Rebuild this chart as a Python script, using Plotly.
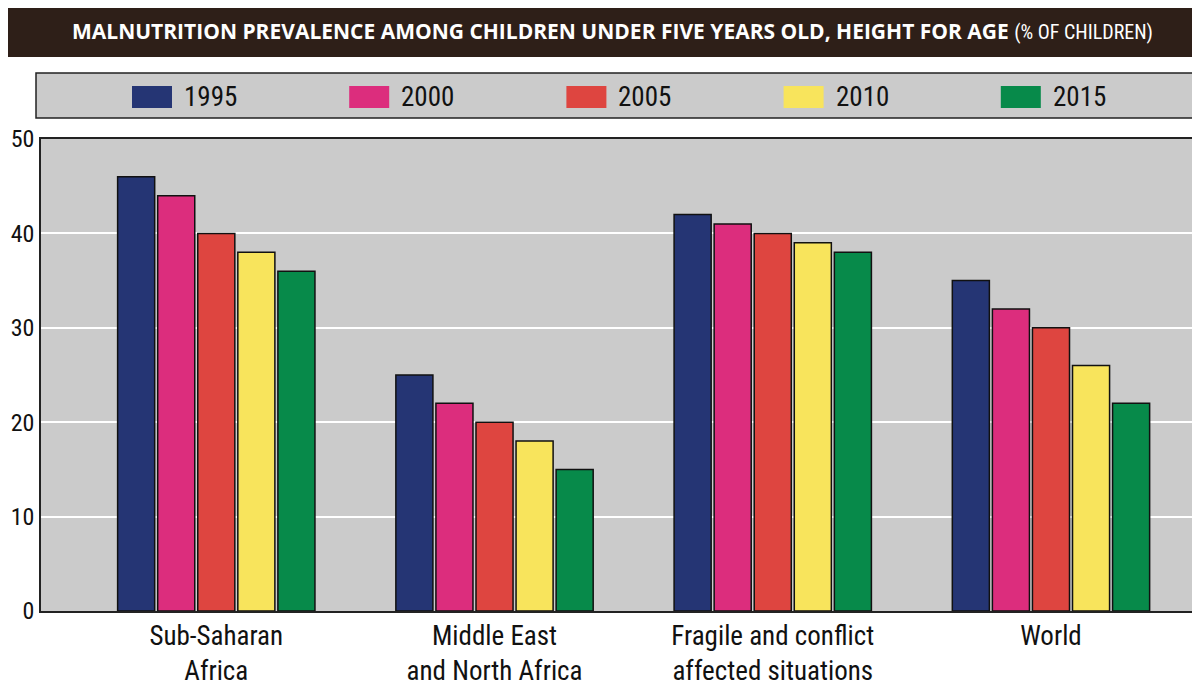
import plotly.graph_objects as go

regions = ["Sub-Saharan<br>Africa", "Middle East<br>and North Africa",
           "Fragile and conflict<br>affected situations", "World"]
years = ["1995", "2000", "2005", "2010", "2015"]
v1995 = [46, 25, 42, 35]
v2000 = [44, 22, 41, 32]
v2005 = [40, 20, 40, 30]
v2010 = [38, 18, 39, 26]
v2015 = [36, 15, 38, 22]
colors = ["#253574", "#DC2D7D", "#DE4540", "#F8E45C", "#078A4A"]

series = [v1995, v2000, v2005, v2010, v2015]
FONT = "Roboto Condensed, DejaVu Sans Condensed, sans-serif"
TITLE_FONT = "Open Sans, Roboto, sans-serif"

# page body has an 8px margin, so lay out in reference pixels minus 8
OFF = 8
W, H = 1200 - OFF, 690 - OFF
L, R, T, B = 41 - OFF, 1, 139 - OFF, 79
pw, ph = W - L - R, H - T - B


def px_x(x):
    return (x - OFF - L) / pw


def px_y(y):
    return (H - B - (y - OFF)) / ph


fig = go.Figure()
xs = list(range(len(regions)))
for name, vals, col in zip(years, series, colors):
    fig.add_trace(go.Bar(x=xs, y=vals, name=name, showlegend=False,
                         marker=dict(color=col, line=dict(color="#111111", width=1.5))))

shapes = []
annotations = []

# title band
shapes.append(dict(type="rect", xref="paper", yref="paper", x0=px_x(0), x1=px_x(1210),
                   y0=px_y(57), y1=px_y(0), fillcolor="#2E1F18", line=dict(width=0), layer="above"))
annotations.append(dict(xref="paper", yref="paper", x=px_x(612), y=px_y(31), showarrow=False,
                        xanchor="center", yanchor="middle",
                        text="<b>MALNUTRITION PREVALENCE AMONG CHILDREN UNDER FIVE YEARS OLD, HEIGHT FOR AGE</b>"
                             " <span style='font-family:Roboto Condensed;font-size:20px'>(% OF CHILDREN)</span>",
                        font=dict(family=TITLE_FONT, size=21, color="white")))

# legend box
shapes.append(dict(type="rect", xref="paper", yref="paper", x0=px_x(36), x1=px_x(1197),
                   y0=px_y(118), y1=px_y(73), fillcolor="#CBCBCB", line=dict(color="#222222", width=1.5)))
for i, (name, col) in enumerate(zip(years, colors)):
    sx = 132 + i * 217.2
    shapes.append(dict(type="rect", xref="paper", yref="paper", x0=px_x(sx), x1=px_x(sx + 40),
                       y0=px_y(108), y1=px_y(86), fillcolor=col, line=dict(width=0)))
    annotations.append(dict(xref="paper", yref="paper", x=px_x(sx + 50), y=px_y(97), showarrow=False,
                            xanchor="left", yanchor="middle", text=name,
                            font=dict(family=FONT, size=27, color="#111111")))

fig.update_layout(
    width=W, height=H,
    margin=dict(l=L, r=R, t=T, b=B, autoexpand=False),
    paper_bgcolor="white", plot_bgcolor="#CBCBCB",
    barmode="group", bargap=0.28, bargroupgap=0.075,
    font=dict(family=FONT, size=26, color="#111111"),
    shapes=shapes, annotations=annotations,
)
fig.update_xaxes(tickvals=xs, ticktext=regions, range=[-0.63, 3.532], automargin=False,
                 showgrid=False, zeroline=False, showline=True, linecolor="#222222",
                 linewidth=1.5, mirror=True, ticks="", tickfont=dict(size=27))
fig.update_yaxes(range=[0, 50], dtick=10, showgrid=True, gridcolor="white", gridwidth=2,
                 automargin=False, zeroline=False, showline=True, linecolor="#222222",
                 linewidth=1.5, mirror=True, ticks="", ticklabelstandoff=0,
                 tickfont=dict(size=24))

fig.write_html("out.html")
